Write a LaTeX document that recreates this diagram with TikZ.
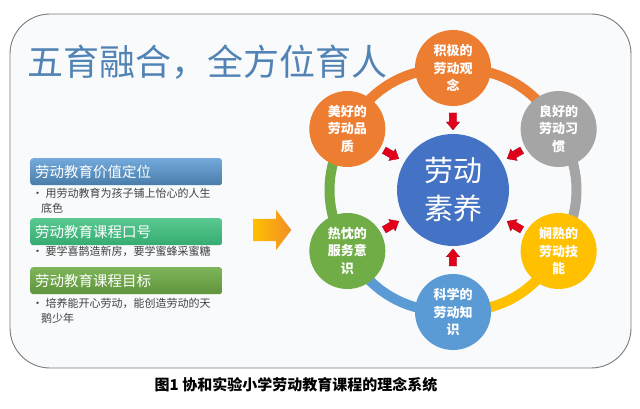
\documentclass[tikz,border=0pt]{standalone}
\usepackage{fontspec}
\setmainfont{Noto Sans CJK SC}
\usepackage{tikz}
\usetikzlibrary{calc}
\usetikzlibrary{positioning}
\usetikzlibrary{shapes.arrows}
\definecolor{myOrange}{HTML}{ED7D31}
\definecolor{myGray}{HTML}{A5A5A5}
\definecolor{myYellow}{HTML}{FFC000}
\definecolor{myBlue}{HTML}{5B9BD5}
\definecolor{myGreen}{HTML}{70AD47}
\definecolor{myTeal}{HTML}{3CBF7E}
\definecolor{myCore}{HTML}{4472C4}
\definecolor{myRed}{HTML}{E3001B}
\definecolor{myTitle}{HTML}{5283B5}
\definecolor{myFrame}{HTML}{7A7A7A}
\definecolor{myPaper}{HTML}{F8FAFC}
\pgfdeclarelayer{back}
\pgfdeclarelayer{mid}
\pgfsetlayers{back,mid,main}

\begin{document}
\begin{tikzpicture}[x=1pt,y=1pt]
\tikzstyle{petal}=[circle, minimum size=76pt, inner sep=0pt, text=white, font=\fontsize{13}{17.5}\selectfont\bfseries, align=center]
\tikzstyle{ringseg}=[line width=10pt]
\tikzstyle{redarr}=[single arrow, fill=myRed, draw=myRed!70!black, line width=0.3pt, minimum height=17pt, inner xsep=0pt, inner ysep=3.5pt, single arrow head extend=3pt, single arrow tip angle=80]
\tikzstyle{headbox}=[rectangle, rounded corners=3pt, text width=182pt, inner xsep=5pt, minimum height=27pt, align=left, anchor=north west, text=white, font=\fontsize{14.5}{14.5}\selectfont]
\tikzstyle{bullettxt}=[anchor=north west, inner sep=0pt, align=left, text=black!75, font=\fontsize{11}{14.5}\selectfont]
\useasboundingbox (0,0) rectangle (640,-409);
% outer frame
\begin{pgfonlayer}{back}
\fill[white] (0,0) rectangle (640,-409);
\draw[draw=myFrame, line width=0.9pt, fill=myPaper, rounded corners=40pt] (10,-14) rectangle (631,-368);
\end{pgfonlayer}
% title
\node[anchor=west, inner sep=0pt, text=myTitle, font=\fontsize{36}{36}\selectfont] (title) at (27,-62) {五育融合，全方位育人};
% core and petals
\node[circle, fill=myCore, minimum size=112pt, inner sep=0pt, text=white, align=center, font=\fontsize{29}{38}\selectfont] (core) at (453,-190) {劳动\\素养};
\node[petal, fill=myOrange] (top) at ($(core)+(90:122)$) {积极的\\劳动观\\念};
\node[petal, fill=myGray] (ur) at ($(core)+(30:122)$) {良好的\\劳动习\\惯};
\node[petal, fill=myYellow] (lr) at ($(core)+(-30:122)$) {娴熟的\\劳动技\\能};
\node[petal, fill=myBlue] (bot) at ($(core)+(-90:122)$) {科学的\\劳动知\\识};
\node[petal, fill=myGreen] (ll) at ($(core)+(210:122)$) {热忱的\\服务意\\识};
\node[petal, fill=myOrange] (ul) at ($(core)+(150:122)$) {美好的\\劳动品\\质};
% ring between petals
\begin{pgfonlayer}{mid}
\draw[ringseg, myOrange] (top.center) to[bend left=30] (ur.center);
\draw[ringseg, myGray] (ur.center) to[bend left=30] (lr.center);
\draw[ringseg, myYellow] (lr.center) to[bend left=30] (bot.center);
\draw[ringseg, myBlue] (bot.center) to[bend left=30] (ll.center);
\draw[ringseg, myGreen] (ll.center) to[bend left=30] (ul.center);
\draw[ringseg, myOrange] (ul.center) to[bend left=30] (top.center);
\end{pgfonlayer}
% red arrows into the core
\node[redarr, rotate=270] (a1) at ($(core)!0.58!(top)$) {};
\node[redarr, rotate=210] (a2) at ($(core)!0.6!(ur)$) {};
\node[redarr, rotate=150] (a3) at ($(core)!0.6!(lr)$) {};
\node[redarr, rotate=90] (a4) at ($(core)!0.57!(bot)$) {};
\node[redarr, rotate=30] (a5) at ($(core)!0.6!(ll)$) {};
\node[redarr, rotate=-30] (a6) at ($(core)!0.6!(ul)$) {};
% left column
\node[headbox, top color=myBlue!85!white, bottom color=myBlue!80!black] (h1) at (30,-158) {劳动教育价值定位};
\node[bullettxt] (t1) at (32,-188) {•\ 用劳动教育为孩子铺上怡心的人生\\\hspace*{9pt}底色};
\node[headbox, top color=myTeal!85!white, bottom color=myTeal!90!black] (h2) at (30,-218) {劳动教育课程口号};
\node[bullettxt] (t2) at (32,-246) {•\ 要学喜鹊造新房，要学蜜蜂采蜜糖};
\node[headbox, top color=myGreen!90!white, bottom color=myGreen!85!black] (h3) at (30,-267) {劳动教育课程目标};
\node[bullettxt] (t3) at (32,-298) {•\ 培养能开心劳动，能创造劳动的天\\\hspace*{9pt}鹅少年};
% big arrow
\node[single arrow, left color=myYellow, right color=myOrange!75!myYellow, minimum height=38pt, inner xsep=0pt, inner ysep=11pt, single arrow head extend=9pt, single arrow tip angle=106] (go) at (268,-230) {};
% caption
\node[font=\fontsize{15}{15}\selectfont\bfseries] (cap) at (296,-385) {图1\ 协和实验小学劳动教育课程的理念系统};
\end{tikzpicture}
\end{document}
